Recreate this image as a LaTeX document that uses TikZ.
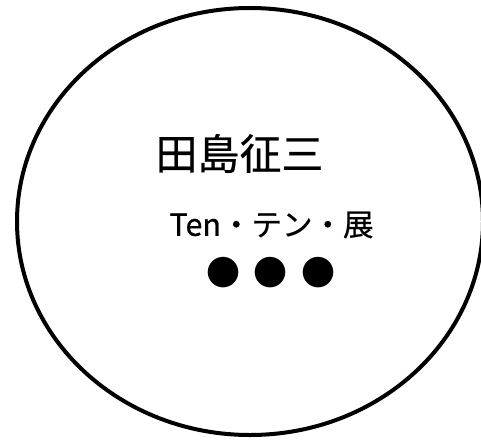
\documentclass[tikz,border=0pt]{standalone}
\usepackage{fontspec}
\newfontfamily\jpfont[BoldFont = Noto Sans CJK JP, BoldFeatures = {FakeBold = 0.6}]{Noto Sans CJK JP}
\usetikzlibrary{shapes.geometric, positioning}

\tikzstyle{oval} = [ellipse, draw = black, line width = 4pt, minimum width = 466pt, minimum height = 427pt, inner sep = 0pt]
\tikzstyle{bigtext} = [inner sep = 0pt, font = \jpfont\bfseries\fontsize{42}{42}\selectfont]
\tikzstyle{subtext} = [inner sep = 0pt, font = \jpfont\bfseries\fontsize{30.5}{30.5}\selectfont]
\tikzstyle{bullets} = [inner sep = 0pt, font = \jpfont\fontsize{34}{34}\selectfont]

\begin{document}
\begin{tikzpicture}[x = 1pt, y = 1pt]

    \useasboundingbox (0,0) rectangle (481,440);
    \node(ring)[oval] at (250,218.5) {};
    \node(artist)[bigtext] at (239.5,286.5) {田島征三};
    \node(show)[subtext] at (271.5,215) {Ten・テン・展};
    \node(more)[bullets] at (271,167) {●\hspace{14pt}●\hspace{14pt}●};

\end{tikzpicture}
\end{document}
